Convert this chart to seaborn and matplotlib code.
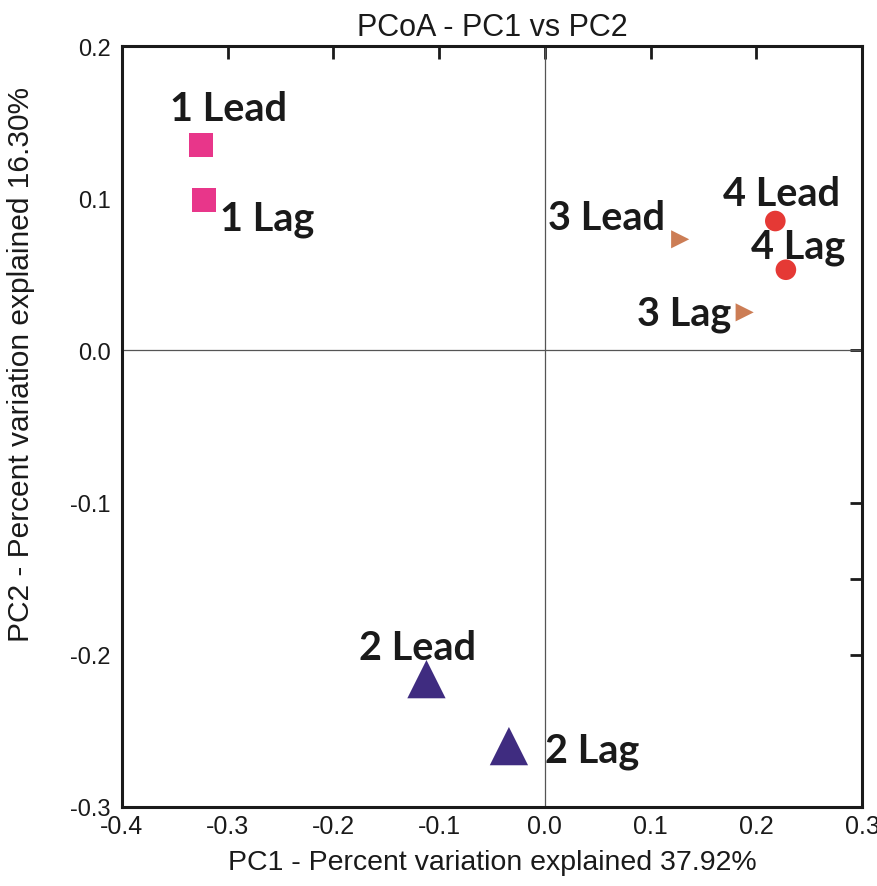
import matplotlib
matplotlib.use("Agg")
import matplotlib.pyplot as plt
import seaborn as sns
import pandas as pd
from matplotlib import font_manager

sns.set_style("white")

# ---- data ----
labels = ["1 Lead", "1 Lag", "2 Lead", "2 Lag", "3 Lead", "3 Lag", "4 Lead", "4 Lag"]
groups = ["1", "1", "2", "2", "3", "3", "4", "4"]
pc1 = [-0.325, -0.322, -0.112, -0.034, 0.128, 0.189, 0.218, 0.228]
pc2 = [0.135, 0.099, -0.216, -0.260, 0.073, 0.025, 0.085, 0.053]
x_ticks = [-0.4, -0.3, -0.2, -0.1, 0.0, 0.1, 0.2, 0.3]
y_ticks = [-0.3, -0.2, -0.1, 0.0, 0.1, 0.2]

colors = {"1": "#E8368A", "2": "#3F2C80", "3": "#CC7D55", "4": "#E53935"}
markers = {"1": "s", "2": "^", "3": ">", "4": "o"}
sizes = {"1": 300, "2": 760, "3": 170, "4": 220}
# label offsets in pixels (styling)
offsets = [(27, 36), (63, -19), (-9, 32), (83, -4), (-74, 22), (-61, -1), (6, 28), (12, 23)]

df = pd.DataFrame({"PC1": pc1, "PC2": pc2, "group": groups, "label": labels})

names = {f.name for f in font_manager.fontManager.ttflist}
narrow = "Liberation Sans Narrow" if "Liberation Sans Narrow" in names else "Liberation Sans"
label_font = "Lato" if "Lato" in names else "DejaVu Sans"

fig = plt.figure(figsize=(8.78, 8.87), dpi=100)
ax = fig.add_axes([122 / 878, 1 - 808 / 887, 740 / 878, 761 / 887])

ax.axhline(0, color="#555555", lw=0.9, zorder=1)
ax.axvline(0, color="#555555", lw=0.9, zorder=1)

sns.scatterplot(data=df, x="PC1", y="PC2", hue="group", style="group", size="group",
                palette=colors, markers=markers, sizes=sizes, linewidth=0,
                legend=False, ax=ax, zorder=3)

for (lab, x, y, off) in zip(labels, pc1, pc2, offsets):
    ax.annotate(lab, (x, y), xytext=off, textcoords="offset pixels",
                ha="center", va="center", fontsize=28.5, fontweight="bold",
                family=label_font, color="#1a1a1a")

ax.set_xlim(-0.4, 0.3)
ax.set_ylim(-0.3, 0.2)
ax.set_xticks(x_ticks)
ax.set_yticks(y_ticks)
ax.set_xticklabels([f"{v:.1f}" for v in x_ticks], family=narrow, fontsize=18)
ax.set_yticklabels([f"{v:.1f}" for v in y_ticks], family="Liberation Sans", fontsize=17)
ax.tick_params(axis="both", direction="in", length=9, width=2, color="#1a1a1a",
               labelcolor="#1a1a1a", pad=6)
ax.tick_params(axis="x", top=True, pad=5)
ax.tick_params(axis="y", pad=8)

# right side ticks
ax2 = ax.secondary_yaxis("right")
ax2.set_yticks([0.0, -0.1, -0.15, -0.2])
ax2.set_yticklabels([])
ax2.tick_params(direction="in", length=9, width=2, color="#1a1a1a")
for s in ax2.spines.values():
    s.set_visible(False)

for s in ax.spines.values():
    s.set_linewidth(2.2)
    s.set_color("#1a1a1a")

ax.set_xlabel("PC1 - Percent variation explained 37.92%", family=narrow, fontsize=20.5,
              color="#1a1a1a", labelpad=8)
ax.set_ylabel("PC2 - Percent variation explained 16.30%", family=narrow, fontsize=21.5,
              color="#1a1a1a")
ax.yaxis.set_label_coords(-0.117, 0.583)
ax.set_title("PCoA - PC1 vs PC2", family=narrow, fontsize=22, color="#1a1a1a", pad=8)

fig.savefig("out.png", dpi=100)
